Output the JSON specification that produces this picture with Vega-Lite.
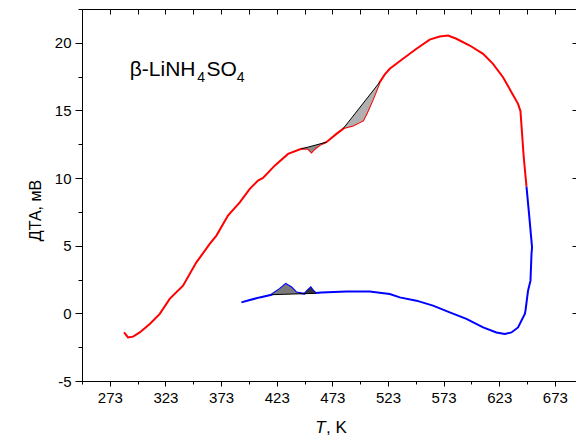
{
  "$schema": "https://vega.github.io/schema/vega-lite/v6.json",
  "width": 494,
  "height": 372,
  "autosize": "none",
  "padding": {"left": 82, "top": 9, "right": 0, "bottom": 58},
  "config": {
    "font": "Liberation Sans",
    "view": {"stroke": "black", "strokeWidth": 1},
    "axis": {
      "grid": false,
      "domainColor": "black",
      "tickColor": "black",
      "labelColor": "black",
      "titleColor": "black",
      "labelFont": "Liberation Sans",
      "titleFont": "Liberation Sans",
      "labelFontSize": 15,
      "titleFontWeight": "normal"
    }
  },
  "datasets": {
    "curve": [
      {"i": 1, "s": "heat", "T": 285.8, "y": -1.41},
      {"i": 2, "s": "heat", "T": 289.4, "y": -1.78},
      {"i": 3, "s": "heat", "T": 293.9, "y": -1.72},
      {"i": 4, "s": "heat", "T": 299.9, "y": -1.41},
      {"i": 5, "s": "heat", "T": 308.9, "y": -0.78},
      {"i": 6, "s": "heat", "T": 317.9, "y": -0.04},
      {"i": 7, "s": "heat", "T": 326.8, "y": 1.07},
      {"i": 8, "s": "heat", "T": 338.8, "y": 2.05},
      {"i": 9, "s": "heat", "T": 350.8, "y": 3.77},
      {"i": 10, "s": "heat", "T": 362.8, "y": 5.13},
      {"i": 11, "s": "heat", "T": 368.8, "y": 5.75},
      {"i": 12, "s": "heat", "T": 379.2, "y": 7.23},
      {"i": 13, "s": "heat", "T": 389.8, "y": 8.21},
      {"i": 14, "s": "heat", "T": 398.8, "y": 9.2},
      {"i": 15, "s": "heat", "T": 406.2, "y": 9.82},
      {"i": 16, "s": "heat", "T": 410.7, "y": 10.01},
      {"i": 17, "s": "heat", "T": 421.2, "y": 10.92},
      {"i": 18, "s": "heat", "T": 433.2, "y": 11.79},
      {"i": 19, "s": "heat", "T": 445.2, "y": 12.16},
      {"i": 20, "s": "heat", "T": 451.2, "y": 12.16},
      {"i": 21, "s": "heat", "T": 454.2, "y": 11.91},
      {"i": 22, "s": "heat", "T": 457.2, "y": 12.16},
      {"i": 23, "s": "heat", "T": 461.7, "y": 12.45},
      {"i": 24, "s": "heat", "T": 467.6, "y": 12.65},
      {"i": 25, "s": "heat", "T": 476.7, "y": 13.27},
      {"i": 26, "s": "heat", "T": 482.6, "y": 13.64},
      {"i": 27, "s": "heat", "T": 484.1, "y": 13.72},
      {"i": 28, "s": "heat", "T": 491.6, "y": 13.88},
      {"i": 29, "s": "heat", "T": 497.6, "y": 14.13},
      {"i": 30, "s": "heat", "T": 500.6, "y": 14.25},
      {"i": 31, "s": "heat", "T": 503.7, "y": 14.75},
      {"i": 32, "s": "heat", "T": 509.6, "y": 15.85},
      {"i": 33, "s": "heat", "T": 515.6, "y": 17.09},
      {"i": 34, "s": "heat", "T": 520.0, "y": 17.65},
      {"i": 35, "s": "heat", "T": 524.6, "y": 18.08},
      {"i": 36, "s": "heat", "T": 536.5, "y": 18.82},
      {"i": 37, "s": "heat", "T": 548.6, "y": 19.56},
      {"i": 38, "s": "heat", "T": 560.5, "y": 20.24},
      {"i": 39, "s": "heat", "T": 569.5, "y": 20.47},
      {"i": 40, "s": "heat", "T": 577.0, "y": 20.54},
      {"i": 41, "s": "heat", "T": 584.5, "y": 20.3},
      {"i": 42, "s": "heat", "T": 596.5, "y": 19.8},
      {"i": 43, "s": "heat", "T": 608.5, "y": 19.19},
      {"i": 44, "s": "heat", "T": 617.4, "y": 18.45},
      {"i": 45, "s": "heat", "T": 626.4, "y": 17.46},
      {"i": 46, "s": "heat", "T": 634.0, "y": 16.35},
      {"i": 47, "s": "heat", "T": 639.9, "y": 15.49},
      {"i": 48, "s": "heat", "T": 642.1, "y": 14.95},
      {"i": 49, "s": "heat", "T": 643.5, "y": 13.31},
      {"i": 50, "s": "heat", "T": 645.0, "y": 11.58},
      {"i": 51, "s": "heat", "T": 647.5, "y": 9.37},
      {"i": 52, "s": "cool", "T": 647.5, "y": 9.37},
      {"i": 53, "s": "cool", "T": 649.8, "y": 7.35},
      {"i": 54, "s": "cool", "T": 652.5, "y": 4.88},
      {"i": 55, "s": "cool", "T": 652.0, "y": 4.39},
      {"i": 56, "s": "cool", "T": 651.1, "y": 2.42},
      {"i": 57, "s": "cool", "T": 648.9, "y": 1.68},
      {"i": 58, "s": "cool", "T": 646.6, "y": 0.2},
      {"i": 59, "s": "cool", "T": 646.0, "y": -0.04},
      {"i": 60, "s": "cool", "T": 639.9, "y": -1.04},
      {"i": 61, "s": "cool", "T": 634.0, "y": -1.41},
      {"i": 62, "s": "cool", "T": 628.0, "y": -1.52},
      {"i": 63, "s": "cool", "T": 620.5, "y": -1.41},
      {"i": 64, "s": "cool", "T": 608.5, "y": -1.04},
      {"i": 65, "s": "cool", "T": 593.5, "y": -0.41},
      {"i": 66, "s": "cool", "T": 578.5, "y": 0.07},
      {"i": 67, "s": "cool", "T": 563.5, "y": 0.57},
      {"i": 68, "s": "cool", "T": 548.6, "y": 0.94},
      {"i": 69, "s": "cool", "T": 533.6, "y": 1.18},
      {"i": 70, "s": "cool", "T": 524.6, "y": 1.43},
      {"i": 71, "s": "cool", "T": 506.6, "y": 1.61},
      {"i": 72, "s": "cool", "T": 485.7, "y": 1.61},
      {"i": 73, "s": "cool", "T": 463.2, "y": 1.55},
      {"i": 74, "s": "cool", "T": 458.0, "y": 1.5},
      {"i": 75, "s": "cool", "T": 456.3, "y": 1.63},
      {"i": 76, "s": "cool", "T": 453.6, "y": 1.92},
      {"i": 77, "s": "cool", "T": 451.2, "y": 1.73},
      {"i": 78, "s": "cool", "T": 448.0, "y": 1.46},
      {"i": 79, "s": "cool", "T": 445.2, "y": 1.48},
      {"i": 80, "s": "cool", "T": 440.7, "y": 1.55},
      {"i": 81, "s": "cool", "T": 436.2, "y": 1.92},
      {"i": 82, "s": "cool", "T": 431.1, "y": 2.17},
      {"i": 83, "s": "cool", "T": 425.7, "y": 1.8},
      {"i": 84, "s": "cool", "T": 418.3, "y": 1.38},
      {"i": 85, "s": "cool", "T": 407.7, "y": 1.18},
      {"i": 86, "s": "cool", "T": 398.8, "y": 0.99},
      {"i": 87, "s": "cool", "T": 391.3, "y": 0.81}
    ],
    "hatch": [
      {"g": "r1", "T": 445.2, "y": 12.16, "y2": 12.16},
      {"g": "r1", "T": 451.2, "y": 12.16, "y2": 12.29},
      {"g": "r1", "T": 454.2, "y": 11.91, "y2": 12.36},
      {"g": "r1", "T": 457.2, "y": 12.16, "y2": 12.42},
      {"g": "r1", "T": 461.7, "y": 12.45, "y2": 12.52},
      {"g": "r1", "T": 467.6, "y": 12.65, "y2": 12.65},
      {"g": "r2", "T": 482.6, "y": 13.64, "y2": 13.64},
      {"g": "r2", "T": 484.1, "y": 13.72, "y2": 13.8},
      {"g": "r2", "T": 491.6, "y": 13.88, "y2": 14.58},
      {"g": "r2", "T": 497.6, "y": 14.13, "y2": 15.21},
      {"g": "r2", "T": 500.6, "y": 14.25, "y2": 15.52},
      {"g": "r2", "T": 503.7, "y": 14.75, "y2": 15.85},
      {"g": "r2", "T": 509.6, "y": 15.85, "y2": 16.46},
      {"g": "r2", "T": 515.6, "y": 17.09, "y2": 17.09},
      {"g": "b1", "T": 418.3, "y": 1.38, "y2": 1.38},
      {"g": "b1", "T": 425.7, "y": 1.8, "y2": 1.4},
      {"g": "b1", "T": 431.1, "y": 2.17, "y2": 1.41},
      {"g": "b1", "T": 436.2, "y": 1.92, "y2": 1.43},
      {"g": "b1", "T": 440.7, "y": 1.55, "y2": 1.44},
      {"g": "b1", "T": 444.0, "y": 1.46, "y2": 1.45},
      {"g": "b2", "T": 448.0, "y": 1.46, "y2": 1.46},
      {"g": "b2", "T": 451.2, "y": 1.73, "y2": 1.46},
      {"g": "b2", "T": 453.6, "y": 1.92, "y2": 1.47},
      {"g": "b2", "T": 456.3, "y": 1.63, "y2": 1.47},
      {"g": "b2", "T": 458.0, "y": 1.5, "y2": 1.48}
    ],
    "base": [
      {"g": "r1", "T": 445.2, "y": 12.16},
      {"g": "r1", "T": 467.6, "y": 12.65},
      {"g": "r2", "T": 482.6, "y": 13.64},
      {"g": "r2", "T": 515.6, "y": 17.09},
      {"g": "b1", "T": 418.3, "y": 1.38},
      {"g": "b1", "T": 458.0, "y": 1.48}
    ],
    "label": [
      {"T": 290.9, "y": 17.55, "t": "β-LiNH"},
      {"T": 360.0, "y": 17.55, "t": "SO"}
    ],
    "sub": [
      {"T": 351.6, "y": 17.1, "t": "4"},
      {"T": 387.0, "y": 17.1, "t": "4"}
    ],
    "xt1": [{"T": 457.6, "y": -8.84, "t": "T"}],
    "xt2": [{"T": 467.3, "y": -8.84, "t": ", K"}]
  },
  "layer": [
    {
      "data": {"name": "curve"},
      "transform": [{"filter": "datum.s === 'heat'"}],
      "mark": {"type": "line", "color": "#ff0000", "strokeWidth": 2},
      "encoding": {
        "x": {
          "field": "T", "type": "quantitative",
          "scale": {"domain": [248, 692], "nice": false, "zero": false},
          "axis": {
            "orient": "bottom", "title": null,
            "values": [248, 273, 298, 323, 348, 373, 398, 423, 448, 473, 498, 523, 548, 573, 598, 623, 648, 673],
            "labelExpr": "datum.value % 50 === 23 ? datum.label : ''",
            "tickSize": {"condition": {"test": "datum.value % 50 === 23", "value": 5}, "value": 3},
            "labelPadding": 4,
            "labelFlush": false,
            "labelOverlap": false
          }
        },
        "y": {
          "field": "y", "type": "quantitative",
          "scale": {"domain": [-5, 22.5], "nice": false, "zero": false},
          "axis": {
            "orient": "left",
            "title": "ДТА, мВ",
            "titleFontSize": 16,
            "titlePadding": 11,
            "titleY": 201,
            "values": [-5, -2.5, 0, 2.5, 5, 7.5, 10, 12.5, 15, 17.5, 20, 22.5],
            "labelExpr": "datum.value % 5 === 0 ? '' + datum.value : ''",
            "tickSize": {"condition": {"test": "datum.value % 5 === 0", "value": 7}, "value": 4},
            "labelPadding": 4,
            "labelFlush": false,
            "labelOverlap": false
          }
        },
        "order": {"field": "i", "type": "quantitative"}
      }
    },
    {
      "data": {"name": "curve"},
      "transform": [{"filter": "datum.s === 'cool'"}],
      "mark": {"type": "line", "color": "#0000ff", "strokeWidth": 2},
      "encoding": {
        "x": {
          "field": "T", "type": "quantitative",
          "scale": {"domain": [248, 692], "nice": false, "zero": false},
          "axis": {
            "orient": "top", "title": null, "labels": false,
            "values": [248, 273, 298, 323, 348, 373, 398, 423, 448, 473, 498, 523, 548, 573, 598, 623, 648, 673],
            "tickSize": -5
          }
        },
        "y": {
          "field": "y", "type": "quantitative",
          "scale": {"domain": [-5, 22.5], "nice": false, "zero": false},
          "axis": {
            "orient": "right", "title": null, "labels": false,
            "values": [-5, 0, 5, 10, 15, 20],
            "tickSize": -4
          }
        },
        "order": {"field": "i", "type": "quantitative"}
      }
    },
    {
      "data": {"name": "hatch"},
      "mark": {"type": "area", "strokeWidth": 0},
      "encoding": {
        "x": {"field": "T", "type": "quantitative", "axis": null},
        "y": {"field": "y", "type": "quantitative", "axis": null},
        "y2": {"field": "y2"},
        "detail": {"field": "g"},
        "color": {
          "field": "g", "type": "nominal", "legend": null,
          "scale": {"domain": ["r1", "r2", "b1", "b2"], "range": ["#8c8c8c", "#b0b0b0", "#7a7a7a", "#333333"]}
        }
      }
    },
    {
      "data": {"name": "base"},
      "mark": {"type": "line", "color": "black", "strokeWidth": 1},
      "encoding": {
        "x": {"field": "T", "type": "quantitative", "axis": null},
        "y": {"field": "y", "type": "quantitative", "axis": null},
        "detail": {"field": "g"}
      }
    },
    {
      "data": {"name": "label"},
      "mark": {"type": "text", "align": "left", "baseline": "alphabetic", "fontSize": 21, "color": "black"},
      "encoding": {
        "x": {"field": "T", "type": "quantitative", "axis": null},
        "y": {"field": "y", "type": "quantitative", "axis": null},
        "text": {"field": "t"}
      }
    },
    {
      "data": {"name": "sub"},
      "mark": {"type": "text", "align": "left", "baseline": "alphabetic", "fontSize": 14, "color": "black"},
      "encoding": {
        "x": {"field": "T", "type": "quantitative", "axis": null},
        "y": {"field": "y", "type": "quantitative", "axis": null},
        "text": {"field": "t"}
      }
    },
    {
      "data": {"name": "xt1"},
      "mark": {"type": "text", "align": "left", "baseline": "alphabetic", "fontSize": 17, "fontStyle": "italic", "color": "black"},
      "encoding": {
        "x": {"field": "T", "type": "quantitative", "axis": null},
        "y": {"field": "y", "type": "quantitative", "axis": null},
        "text": {"field": "t"}
      }
    },
    {
      "data": {"name": "xt2"},
      "mark": {"type": "text", "align": "left", "baseline": "alphabetic", "fontSize": 17, "color": "black"},
      "encoding": {
        "x": {"field": "T", "type": "quantitative", "axis": null},
        "y": {"field": "y", "type": "quantitative", "axis": null},
        "text": {"field": "t"}
      }
    }
  ],
  "resolve": {"axis": {"x": "independent", "y": "independent"}}
}
